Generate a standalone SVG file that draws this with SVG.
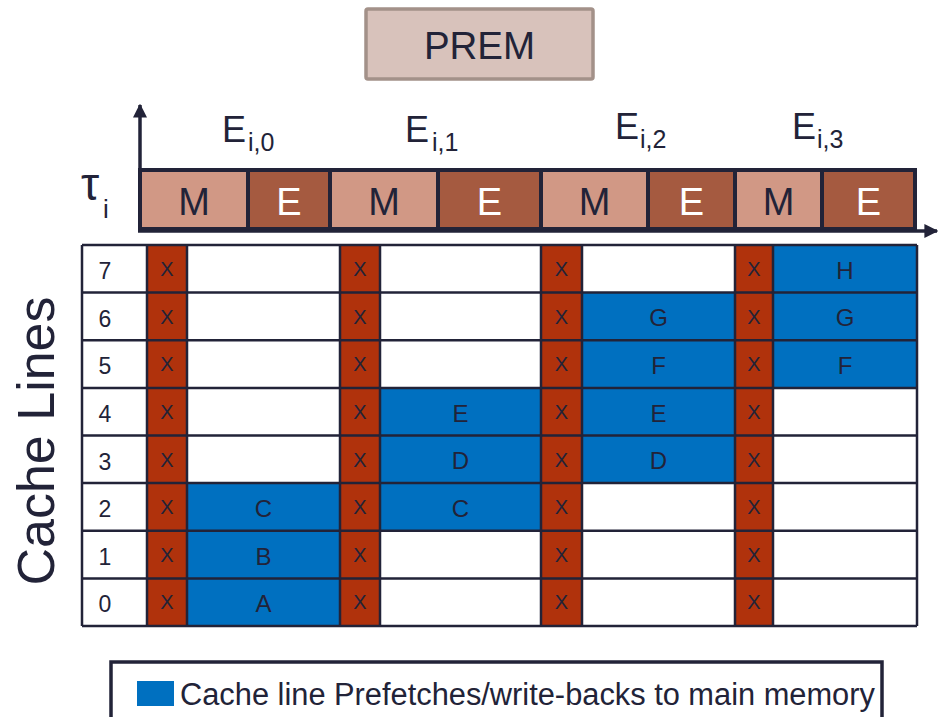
<svg xmlns="http://www.w3.org/2000/svg" width="938" height="717" viewBox="0 0 938 717">
  <style>
    text { font-family: "Liberation Sans", Arial, sans-serif; fill: #222338; }
    .ink { stroke: #222338; }
    .seg-m { fill: #d19885; stroke: #222338; stroke-width: 4; }
    .seg-e { fill: #a55a40; stroke: #222338; stroke-width: 4; }
    .lbl-m { font-size: 38px; text-anchor: middle; fill: #222338; }
    .lbl-e { font-size: 38px; text-anchor: middle; fill: #ffffff; }
    .job { font-size: 36px; }
    .sub { font-size: 25px; }
    .mem { fill: #b0320c; }
    .pf { fill: #0070c0; }
    .x { font-size: 20px; text-anchor: middle; }
    .let { font-size: 24px; text-anchor: middle; }
    .num { font-size: 23px; text-anchor: middle; }
    .grid { stroke: #222338; stroke-width: 2.5; fill: none; }
  </style>
  <defs>
    <marker id="arrow" viewBox="0 0 10 10" refX="9" refY="5" markerWidth="4" markerHeight="4" orient="auto">
      <path d="M0,0 L10,5 L0,10 Z" fill="#222338"/>
    </marker>
  </defs>

  <!-- title box -->
  <g id="prem">
    <rect x="366" y="9" width="227" height="70" rx="2" fill="#d8c2bb" stroke="#a39189" stroke-width="3.5"/>
    <text x="479.5" y="59" font-size="38.5" text-anchor="middle">PREM</text>
  </g>

  <!-- interval labels -->
  <g id="interval-labels">
    <text class="job" x="222" y="142">E<tspan class="sub" x="248" y="151">i,0</tspan></text>
    <text class="job" x="405" y="142">E<tspan class="sub" x="432" y="151">i,1</tspan></text>
    <text class="job" x="615" y="139">E<tspan class="sub" x="640" y="148">i,2</tspan></text>
    <text class="job" x="792" y="139">E<tspan class="sub" x="817" y="148">i,3</tspan></text>
  </g>

  <!-- task label -->
  <g id="task">
    <text x="81" y="200" font-size="46">τ</text>
    <text x="103" y="218" font-size="26">i</text>
  </g>

  <!-- M/E phase bar -->
  <g id="phases">
    <rect class="seg-m" x="140" y="170" width="108" height="59"/>
    <rect class="seg-e" x="248" y="170" width="82" height="59"/>
    <rect class="seg-m" x="330" y="170" width="108" height="59"/>
    <rect class="seg-e" x="438" y="170" width="103" height="59"/>
    <rect class="seg-m" x="541" y="170" width="107" height="59"/>
    <rect class="seg-e" x="648" y="170" width="87" height="59"/>
    <rect class="seg-m" x="735" y="170" width="87" height="59"/>
    <rect class="seg-e" x="822" y="170" width="93" height="59"/>
    <text class="lbl-m" x="194" y="215">M</text>
    <text class="lbl-e" x="289" y="215">E</text>
    <text class="lbl-m" x="384" y="215">M</text>
    <text class="lbl-e" x="489.5" y="215">E</text>
    <text class="lbl-m" x="594.5" y="215">M</text>
    <text class="lbl-e" x="691.5" y="215">E</text>
    <text class="lbl-m" x="778.5" y="215">M</text>
    <text class="lbl-e" x="868.5" y="215">E</text>
  </g>

  <!-- axes -->
  <g id="connectors" class="ink" stroke-width="3.5" fill="none">
    <line x1="140" y1="232" x2="140" y2="105" marker-end="url(#arrow)"/>
    <line x1="138" y1="231" x2="937" y2="231" marker-end="url(#arrow)"/>
  </g>

  <!-- cache line grid -->
  <g id="cache-grid">
    <rect x="82" y="245" width="835" height="381" fill="#ffffff"/>
    <!-- memory phase columns -->
    <rect class="mem" x="147" y="245" width="40" height="381"/>
    <rect class="mem" x="340" y="245" width="40" height="381"/>
    <rect class="mem" x="541" y="245" width="41" height="381"/>
    <rect class="mem" x="735" y="245" width="38" height="381"/>
    <!-- prefetched lines -->
    <rect class="pf" x="187" y="483.1" width="153" height="142.9"/>
    <rect class="pf" x="380" y="387.9" width="161" height="142.9"/>
    <rect class="pf" x="582" y="292.6" width="153" height="190.5"/>
    <rect class="pf" x="773" y="245" width="144" height="142.9"/>
    <!-- grid lines -->
    <path class="grid" d="M82,245H917 M82,340.3H917 M82,387.9H917 M82,435.5H917 M82,483.1H917 M82,530.8H917 M82,578.4H917 M82,626H917"/>
    <path class="grid" stroke-width="3.5" d="M82,292.6H917"/>
    <path class="grid" d="M82,245V626 M147,245V626 M187,245V626 M340,245V626 M380,245V626 M541,245V626 M582,245V626 M735,245V626 M773,245V626 M917,245V626"/>
    <!-- row numbers -->
    <text class="num" x="105" y="279">7</text>
    <text class="num" x="105" y="326.6">6</text>
    <text class="num" x="105" y="374.3">5</text>
    <text class="num" x="105" y="421.9">4</text>
    <text class="num" x="105" y="469.5">3</text>
    <text class="num" x="105" y="517.2">2</text>
    <text class="num" x="105" y="564.8">1</text>
    <text class="num" x="105" y="612.4">0</text>
  </g>

  <!-- X marks in memory phases -->
  <g id="x-col-0">
    <text class="x" x="167" y="276">X</text>
    <text class="x" x="167" y="323.6">X</text>
    <text class="x" x="167" y="371.3">X</text>
    <text class="x" x="167" y="418.9">X</text>
    <text class="x" x="167" y="466.5">X</text>
    <text class="x" x="167" y="514.2">X</text>
    <text class="x" x="167" y="561.8">X</text>
    <text class="x" x="167" y="609.4">X</text>
  </g>
  <g id="x-col-1">
    <text class="x" x="360" y="276">X</text>
    <text class="x" x="360" y="323.6">X</text>
    <text class="x" x="360" y="371.3">X</text>
    <text class="x" x="360" y="418.9">X</text>
    <text class="x" x="360" y="466.5">X</text>
    <text class="x" x="360" y="514.2">X</text>
    <text class="x" x="360" y="561.8">X</text>
    <text class="x" x="360" y="609.4">X</text>
  </g>
  <g id="x-col-2">
    <text class="x" x="561.5" y="276">X</text>
    <text class="x" x="561.5" y="323.6">X</text>
    <text class="x" x="561.5" y="371.3">X</text>
    <text class="x" x="561.5" y="418.9">X</text>
    <text class="x" x="561.5" y="466.5">X</text>
    <text class="x" x="561.5" y="514.2">X</text>
    <text class="x" x="561.5" y="561.8">X</text>
    <text class="x" x="561.5" y="609.4">X</text>
  </g>
  <g id="x-col-3">
    <text class="x" x="754" y="276">X</text>
    <text class="x" x="754" y="323.6">X</text>
    <text class="x" x="754" y="371.3">X</text>
    <text class="x" x="754" y="418.9">X</text>
    <text class="x" x="754" y="466.5">X</text>
    <text class="x" x="754" y="514.2">X</text>
    <text class="x" x="754" y="561.8">X</text>
    <text class="x" x="754" y="609.4">X</text>
  </g>

  <!-- line contents -->
  <g id="lines-e0">
    <text class="let" x="263.5" y="517">C</text>
    <text class="let" x="263.5" y="564.6">B</text>
    <text class="let" x="263.5" y="612.2">A</text>
  </g>
  <g id="lines-e1">
    <text class="let" x="460.5" y="421.7">E</text>
    <text class="let" x="460.5" y="469.3">D</text>
    <text class="let" x="460.5" y="517">C</text>
  </g>
  <g id="lines-e2">
    <text class="let" x="658.5" y="326.4">G</text>
    <text class="let" x="658.5" y="374.1">F</text>
    <text class="let" x="658.5" y="421.7">E</text>
    <text class="let" x="658.5" y="469.3">D</text>
  </g>
  <g id="lines-e3">
    <text class="let" x="845" y="278.8">H</text>
    <text class="let" x="845" y="326.4">G</text>
    <text class="let" x="845" y="374.1">F</text>
  </g>

  <!-- vertical axis title -->
  <g id="axis-title">
    <text transform="translate(54,441) rotate(-90)" font-size="52" text-anchor="middle">Cache Lines</text>
  </g>

  <!-- legend -->
  <g id="legend">
    <rect x="111" y="662" width="771" height="80" fill="#ffffff" stroke="#222338" stroke-width="3.5"/>
    <rect class="pf" x="137" y="681" width="37" height="25"/>
    <text x="180" y="705" font-size="30.8">Cache line Prefetches/write-backs to main memory</text>
  </g>
</svg>
